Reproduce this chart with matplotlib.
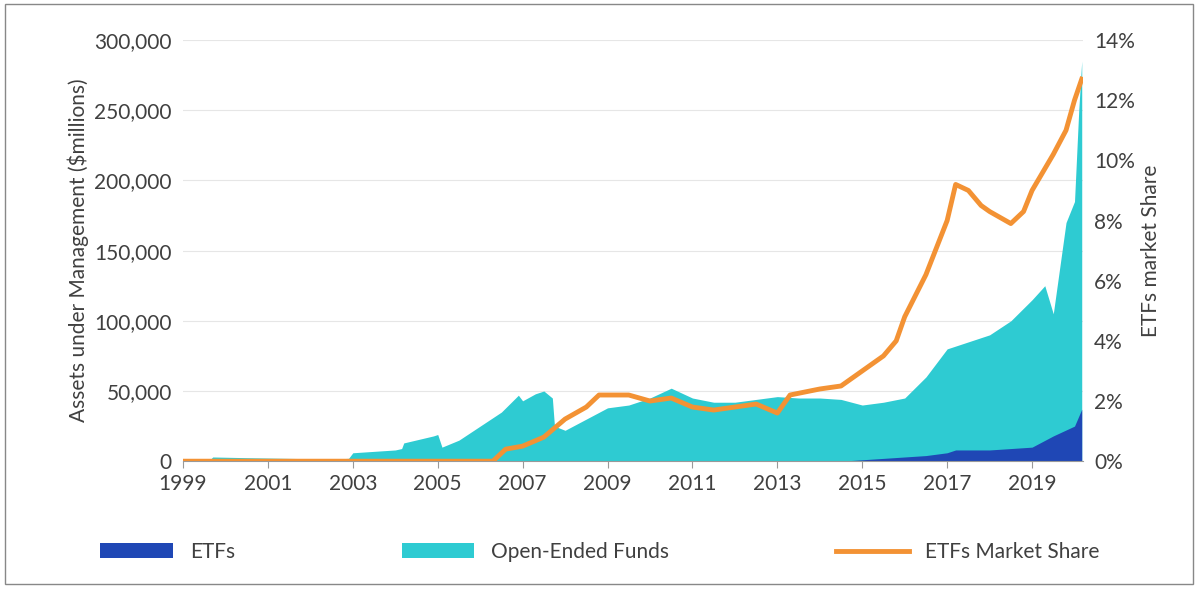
import matplotlib
matplotlib.use("Agg")
import matplotlib.pyplot as plt
from matplotlib.patches import Rectangle

plt.rcParams['font.family'] = ['Lato', 'DejaVu Sans']

total_x = [1999.0, 1999.6, 1999.7, 2000.5, 2001.5, 2002.5, 2002.9, 2003.0, 2003.5, 2004.0, 2004.15, 2004.2, 2004.9, 2005.0, 2005.1, 2005.5, 2006.0, 2006.5, 2006.9, 2007.0, 2007.3, 2007.5, 2007.7, 2007.75, 2008.0, 2008.5, 2009.0, 2009.5, 2010.0, 2010.5, 2011.0, 2011.5, 2012.0, 2012.5, 2013.0, 2013.5, 2014.0, 2014.5, 2015.0, 2015.5, 2016.0, 2016.5, 2017.0, 2017.5, 2018.0, 2018.5, 2019.0, 2019.3, 2019.5, 2019.8, 2020.0, 2020.1, 2020.17]
total_y = [0, 0, 3000, 2500, 2000, 1500, 2000, 6000, 7000, 8000, 9000, 13000, 18000, 19000, 10000, 15000, 25000, 35000, 47000, 43000, 48000, 50000, 45000, 25000, 22000, 30000, 38000, 40000, 45000, 52000, 45000, 42000, 42000, 44000, 46000, 45000, 45000, 44000, 40000, 42000, 45000, 60000, 80000, 85000, 90000, 100000, 115000, 125000, 105000, 170000, 185000, 250000, 285000]

etf_x = [1999.0, 2014.5, 2015.5, 2016.0, 2016.5, 2017.0, 2017.2, 2018.0, 2019.0, 2019.5, 2020.0, 2020.17]
etf_y = [0, 0, 2000, 3000, 4000, 6000, 8000, 8000, 10000, 18000, 25000, 37000]

share_x = [1999.0, 2006.3, 2006.6, 2007.0, 2007.5, 2008.0, 2008.5, 2008.8, 2009.5, 2010.0, 2010.5, 2011.0, 2011.5, 2012.0, 2012.5, 2013.0, 2013.3, 2014.0, 2014.5, 2015.0, 2015.5, 2015.8, 2016.0, 2016.5, 2017.0, 2017.2, 2017.5, 2017.8, 2018.0, 2018.5, 2018.8, 2019.0, 2019.5, 2019.8, 2020.0, 2020.17]
share_y = [0, 0, 0.4, 0.5, 0.8, 1.4, 1.8, 2.2, 2.2, 2.0, 2.1, 1.8, 1.7, 1.8, 1.9, 1.6, 2.2, 2.4, 2.5, 3.0, 3.5, 4.0, 4.8, 6.2, 8.0, 9.2, 9.0, 8.5, 8.3, 7.9, 8.3, 9.0, 10.2, 11.0, 12.0, 12.7]

years = [1999, 2001, 2003, 2005, 2007, 2009, 2011, 2013, 2015, 2017, 2019]

C_ETF = '#1f47b5'
C_OEF = '#2ecbd2'
C_SH = '#f39234'
TXT = '#404040'

fig = plt.figure(figsize=(12, 5.89), dpi=100)
ax = fig.add_axes([0.1525, 0.217, 0.75, 0.715])
ax.fill_between(total_x, 0, total_y, color=C_OEF, lw=0, label='Open-Ended Funds')
ax.fill_between(etf_x, 0, etf_y, color=C_ETF, lw=0, label='ETFs')
ax.set_ylim(0, 300000)
ax.set_xlim(1999, 2020.2)
ax.set_yticks(range(0, 300001, 50000))
ax.set_yticklabels([f'{v:,}' for v in range(0, 300001, 50000)])
ax.set_xticks(years)
ax.grid(axis='y', color='#e6e6e6', lw=0.8)
ax.set_axisbelow(True)
for s in ['top', 'right', 'left']:
    ax.spines[s].set_visible(False)
ax.spines['bottom'].set_color('#999999')
ax.tick_params(axis='both', length=0, labelsize=15, colors=TXT, pad=8)
ax.tick_params(axis='x', length=5, color='#999999', pad=4)
ax.set_ylabel('Assets under Management ($millions)', fontsize=15, color=TXT)

ax2 = ax.twinx()
ax2.plot(share_x, share_y, color=C_SH, lw=3.5, label='ETFs Market Share')
ax2.set_ylim(0, 14)
ax2.set_yticks(range(0, 15, 2))
ax2.set_yticklabels([f'{v}%' for v in range(0, 15, 2)])
for s in ['top', 'right', 'left', 'bottom']:
    ax2.spines[s].set_visible(False)
ax2.tick_params(axis='y', length=0, labelsize=15, colors=TXT, pad=8)
ax2.set_ylabel('ETFs market Share', fontsize=15, color=TXT)

h1, l1 = ax.get_legend_handles_labels()
h2, l2 = ax2.get_legend_handles_labels()
fig.legend([h1[1], h1[0], h2[0]], [l1[1], l1[0], l2[0]], loc='center', bbox_to_anchor=(0.5, 0.063),
           ncol=3, frameon=False, fontsize=15, columnspacing=8, handlelength=3.5, labelcolor=TXT)

fig.add_artist(Rectangle((0.004, 0.008), 0.99, 0.985, transform=fig.transFigure, fill=False, ec='#888888', lw=1))
fig.savefig('out.png')
